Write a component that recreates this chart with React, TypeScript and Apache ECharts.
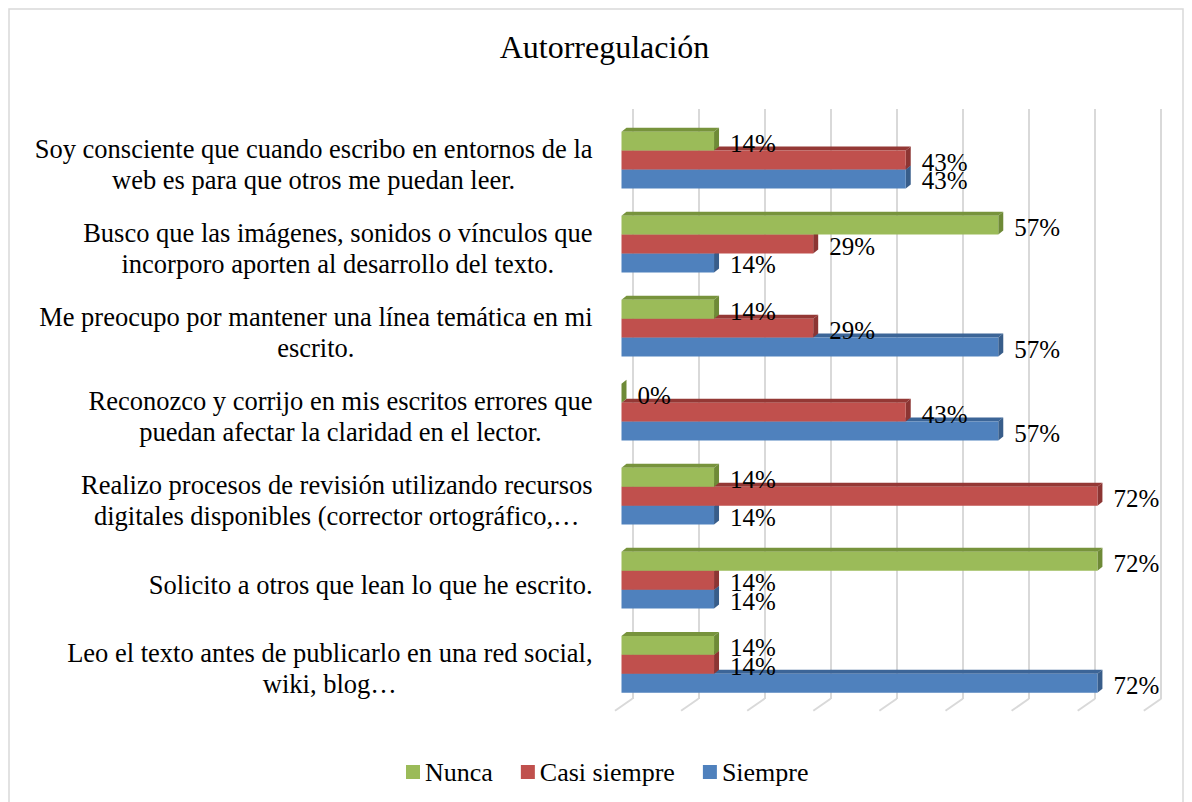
import React, { useEffect, useRef } from 'react';
import * as echarts from 'echarts';

const categories = [
  'Soy consciente que cuando escribo en entornos de la\nweb es para que otros me puedan leer.',
  'Busco que las imágenes, sonidos o vínculos que\nincorporo aporten al desarrollo del texto.',
  'Me preocupo por mantener una línea temática en mi\nescrito.',
  'Reconozco y corrijo en mis escritos errores que\npuedan afectar la claridad en el lector.',
  'Realizo procesos de revisión utilizando recursos\ndigitales disponibles (corrector ortográfico,…',
  'Solicito a otros que lean lo que he escrito.',
  'Leo el texto antes de publicarlo en una red social,\nwiki, blog…',
];

const seriesNames = ['Nunca', 'Casi siempre', 'Siempre'];
const nunca = [14, 57, 14, 0, 14, 72, 14];
const casiSiempre = [43, 29, 29, 43, 72, 14, 14];
const siempre = [43, 14, 57, 57, 14, 14, 72];
const gridTicks = [0, 10, 20, 30, 40, 50, 60, 70, 80];
const titleText = 'Autorregulación';

const FONT = 'Liberation Serif';

const palette = [
  { front: '#9BBB59', top: '#77933C', side: '#6E8A37' },
  { front: '#C0504D', top: '#943835', side: '#8C3533' },
  { front: '#4F81BD', top: '#3C6597', side: '#385D8A' },
];

const GAP = 0.325;
const DX = 5;
const DY = 4;

function makeBarRender(s: number) {
  const c = palette[s];
  return (params: any, api: any) => {
    const v = api.value(0);
    const ci = api.value(1);
    const pEnd = api.coord([v, ci]);
    const p0 = api.coord([0, ci]);
    const xEnd = pEnd[0];
    const yc = pEnd[1];
    const x0 = p0[0];
    const band = api.size([0, 1])[1];
    const bh = (band * (1 - GAP)) / 3;
    const top = yc - 1.5 * bh + s * bh;
    return {
      type: 'group',
      children: [
        {
          type: 'polygon',
          shape: { points: [[x0, top], [x0 + DX, top - DY], [xEnd + DX, top - DY], [xEnd, top]] },
          style: { fill: c.top },
        },
        {
          type: 'polygon',
          shape: { points: [[xEnd, top], [xEnd + DX, top - DY], [xEnd + DX, top - DY + bh], [xEnd, top + bh]] },
          style: { fill: c.side },
        },
        {
          type: 'rect',
          shape: { x: x0, y: top, width: Math.max(0, xEnd - x0), height: bh },
          style: { fill: c.front },
        },
        {
          type: 'text',
          x: xEnd + 16,
          y: top + bh / 2 + 2,
          style: {
            text: v + '%',
            fill: '#000',
            fontSize: 25,
            fontFamily: FONT,
            align: 'left',
            verticalAlign: 'middle',
          },
        },
      ],
    };
  };
}

export default function App() {
  const ref = useRef<HTMLDivElement>(null);

  useEffect(() => {
    if (!ref.current) return;
    const chart = echarts.init(ref.current, undefined, { renderer: 'svg' });
    const seriesData = [nunca, casiSiempre, siempre];

    const barSeries = seriesData.map((vals, s) => ({
      type: 'custom',
      name: seriesNames[s],
      xAxisIndex: 0,
      yAxisIndex: 0,
      z: 4 - s,
      itemStyle: { color: palette[s].front },
      encode: { x: 0, y: 1 },
      data: vals.map((v, i) => [v, i]),
      renderItem: makeBarRender(s),
    }));

    const option: any = {
      animation: false,
      backgroundColor: '#ffffff',
      textStyle: { fontFamily: FONT },
      graphic: [
        {
          type: 'rect',
          shape: { x: 9, y: 9, width: 1174, height: 800 },
          style: { fill: 'none', stroke: '#d9d9d9', lineWidth: 1.5 },
          silent: true,
        },
        {
          type: 'text',
          x: 604.5,
          y: 47,
          style: {
            text: titleText,
            fill: '#000',
            fontSize: 32,
            fontFamily: FONT,
            align: 'center',
            verticalAlign: 'middle',
          },
        },
      ],
      legend: {
        data: seriesNames,
        left: 406,
        top: 759,
        padding: 0,
        icon: 'rect',
        itemWidth: 14,
        itemHeight: 14,
        itemGap: 28,
        textStyle: { fontSize: 26, fontFamily: FONT, color: '#000' },
      },
      grid: [
        { left: 621.5, right: 41.7, top: 118, bottom: 95.7 },
        { left: 632.3, right: 30.9, top: 109, bottom: 103 },
      ],
      xAxis: [
        { type: 'value', gridIndex: 0, min: 0, max: 80, interval: 10, show: false },
        {
          type: 'value',
          gridIndex: 1,
          min: 0,
          max: 80,
          interval: 10,
          axisLine: { show: false },
          axisTick: { show: false },
          axisLabel: { show: false },
          splitLine: { show: true, lineStyle: { color: '#d9d9d9', width: 2 } },
        },
      ],
      yAxis: [
        {
          type: 'category',
          gridIndex: 0,
          inverse: true,
          data: categories,
          axisLine: { show: false },
          axisTick: { show: false },
          splitLine: { show: false },
          axisLabel: {
            margin: 29,
            align: 'right',
            padding: [9, 0, 0, 0],
            formatter: (val: string) =>
              val
                .split('\n')
                .map((l) => '{c|' + l + '}')
                .join('\n'),
            rich: {
              c: { align: 'center', fontSize: 26.5, fontFamily: FONT, color: '#000', lineHeight: 31 },
            },
          },
        },
        { type: 'value', gridIndex: 1, min: 0, max: 1, show: false },
      ],
      series: [
        {
          type: 'custom',
          name: 'floor',
          xAxisIndex: 0,
          yAxisIndex: 0,
          silent: true,
          z: 1,
          encode: { x: 0, y: 1 },
          data: gridTicks.map((t) => [t, 0]),
          renderItem: (params: any, api: any) => {
            const x = api.coord([api.value(0), 0])[0];
            const cs = params.coordSys;
            const yFront = cs.y + cs.height + 4.5;
            return {
              type: 'line',
              shape: { x1: x - 6.5, y1: yFront, x2: x + 10.8, y2: yFront - 12 },
              style: { stroke: '#d9d9d9', lineWidth: 2 },
            };
          },
        },
        ...barSeries,
      ],
    };

    chart.setOption(option);
    return () => chart.dispose();
  }, []);

  return (
    <div
      ref={ref}
      style={{ position: 'absolute', left: 0, top: 0, width: 1192, height: 802, background: '#fff' }}
    />
  );
}
